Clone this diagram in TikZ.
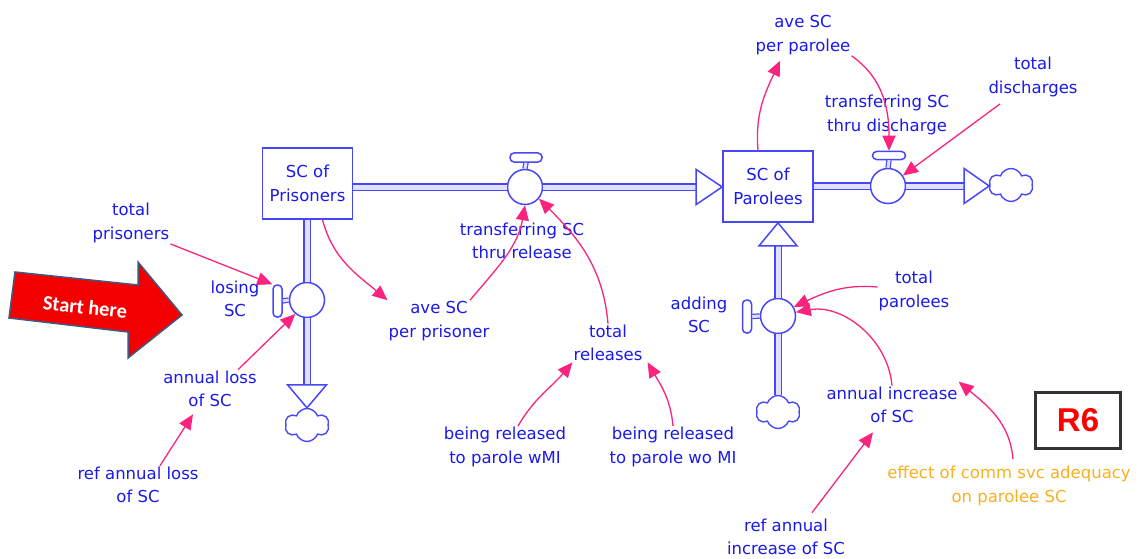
\documentclass[tikz,border=0pt]{standalone}
\usepackage{fontspec}
\setmainfont{DejaVu Sans}
\newfontfamily\calloutfont{Carlito}
\newfontfamily\loopfont{Liberation Sans}
\usetikzlibrary{shapes.symbols, arrows.meta, positioning, calc}

\definecolor{simblue}{RGB}{70,70,250}
\definecolor{labelblue}{RGB}{25,25,235}
\definecolor{pipefill}{RGB}{225,225,255}
\definecolor{linkpink}{RGB}{250,35,125}
\definecolor{effectorange}{RGB}{250,175,30}
\definecolor{startred}{RGB}{245,0,0}
\definecolor{startedge}{RGB}{60,90,130}

\begin{document}
\begin{tikzpicture}[
        x=1pt, y=1pt,
        font=\fontsize{16.5}{23.5}\selectfont,
        stock/.style={
            draw=simblue,
            line width=1.7pt,
            fill=white,
            minimum width=90pt,
            minimum height=71pt,
            align=center,
            text=labelblue
        },
        valve/.style={
            circle,
            draw=simblue,
            line width=1.5pt,
            fill=white,
            minimum size=35pt,
            inner sep=0pt
        },
        handle/.style={
            draw=simblue,
            line width=1.5pt,
            fill=white,
            rounded corners=4pt,
            inner sep=0pt
        },
        pipe/.style={
            draw=simblue,
            line width=1.6pt,
            double=pipefill,
            double distance=5pt
        },
        stem/.style={
            draw=simblue,
            line width=1.2pt,
            double=pipefill,
            double distance=3pt
        },
        flowhead/.style={
            draw=simblue,
            line width=1.5pt,
            fill=white,
            line join=miter
        },
        sink/.style={
            cloud,
            cloud puffs=6,
            cloud puff arc=140,
            aspect=1.3,
            draw=simblue,
            line width=1.4pt,
            fill=white,
            minimum width=44pt,
            minimum height=33pt,
            inner sep=0pt
        },
        var/.style={
            align=center,
            text=labelblue,
            inner sep=1pt
        },
        link/.style={
            line width=1.3pt,
            draw=linkpink,
            -{Triangle[length=15pt, width=13pt]}
        }
    ]

    \useasboundingbox (0,0) rectangle (1142,558);

    % Stocks
    \node (prisoners) [stock] at (307.5,374.5) {SC of\\Prisoners};
    \node (parolees) [stock] at (768,371.5) {SC of\\Parolees};

    % Valves and their handles
    \node (vrelease) [valve] at (525,371) {};
    \node (vdischarge) [valve] at (888,372) {};
    \node (vlose) [valve] at (307,258) {};
    \node (vadd) [valve] at (778,242) {};

    \node (hrelease) [handle, minimum width=32pt, minimum height=9pt] at (526,400.5) {};
    \node (hdischarge) [handle, minimum width=33pt, minimum height=8pt] at (889,402.5) {};
    \node (hlose) [handle, minimum width=9pt, minimum height=32pt] at (277.5,257) {};
    \node (hadd) [handle, minimum width=9pt, minimum height=33pt] at (747,241.5) {};

    \draw [stem] (vrelease.north) -- (hrelease.south);
    \draw [stem] (vdischarge.north) -- (hdischarge.south);
    \draw [stem] (vlose.west) -- (hlose.east);
    \draw [stem] (vadd.west) -- (hadd.east);

    % Sources and sinks
    \node (sinkout) [sink] at (1011,373) {};
    \node (sinklose) [sink] at (307,133) {};
    \node (srcadd) [sink] at (778,146) {};

    % Flows
    \draw [pipe] (prisoners.east |- vrelease) -- (vrelease.west);
    \draw [pipe] (vrelease.east) -- ([xshift=-26]parolees.west |- vrelease);
    \draw [flowhead] (parolees.west |- vrelease) -- ++(-26,17.5) -- ++(0,-35) -- cycle;

    \draw [pipe] (parolees.east |- vdischarge) -- (vdischarge.west);
    \draw [pipe] (vdischarge.east) -- ([xshift=-25]sinkout.west |- vdischarge);
    \draw [flowhead] (sinkout.west |- vdischarge) -- ++(-25,17.5) -- ++(0,-35) -- cycle;

    \draw [pipe] (prisoners.south -| vlose) -- (vlose.north);
    \draw [pipe] (vlose.south) -- ([yshift=23]sinklose.north);
    \draw [flowhead] (sinklose.north) -- ++(-19.5,23) -- ++(39,0) -- cycle;

    \draw [pipe] (srcadd.north) -- (vadd.south);
    \draw [pipe] (vadd.north) -- ([yshift=-23]parolees.south -| vadd);
    \draw [flowhead] (parolees.south -| vadd) -- ++(-19,-23) -- ++(38,0) -- cycle;

    % Variables
    \node (totpris) [var] at (131,335) {total\\prisoners};
    \node (losing) [var] at (235,259) {losing\\SC};
    \node (annloss) [var] at (210,169) {annual loss\\of SC};
    \node (refloss) [var] at (138,73) {ref annual loss\\of SC};
    \node (avepris) [var] at (439,237) {ave SC\\per prisoner};
    \node (transrel) [var] at (522,317) {transferring SC\\thru release};
    \node (totrel) [var] at (608,215) {total\\releases};
    \node (relwmi) [var] at (505,111) {being released\\to parole wMI};
    \node (relwomi) [var] at (673,111) {being released\\to parole wo MI};
    \node (adding) [var] at (699,243) {adding\\SC};
    \node (totparol) [var] at (914,267) {total\\parolees};
    \node (anninc) [var] at (892,153) {annual increase\\of SC};
    \node (refinc) [var] at (786,21) {ref annual\\increase of SC};
    \node (effect) [var, text=effectorange] at (1009,72) {effect of comm svc adequacy\\on parolee SC};
    \node (aveparol) [var] at (803,523) {ave SC\\per parolee};
    \node (transdis) [var] at (887,443) {transferring SC\\thru discharge};
    \node (totdis) [var] at (1033,481) {total\\discharges};

    % Loop tag
    \node (loop) [draw=black!80, line width=2.2pt, minimum width=85pt, minimum height=56pt,
                  text=red, font=\loopfont\bfseries\fontsize{33}{33}\selectfont] at (1078,137.5) {R6};

    % Start marker
    \draw [draw=startedge, fill=startred, line width=1.5pt, line join=miter]
        (15,286) -- (138,273) -- (138,296) -- (182,243) -- (128,200) -- (128,226) -- (9,240) -- cycle;
    \node (start) [rotate=-6, text=white, font=\calloutfont\bfseries\fontsize{20.5}{20.5}\selectfont] at (85,251) {Start here};

    % Links - prisoners side
    \draw [link] (totpris.south east) -- (hlose.north west);
    \draw [link] ([xshift=28]annloss.north) -- (vlose.230);
    \draw [link] ([xshift=22]refloss.north) -- ([xshift=-17,yshift=-6]annloss.south);
    \draw [link] ([xshift=15]prisoners.south) to[out=-75, in=140] (avepris.north west);
    \draw [link] ([xshift=31]avepris.north) to[out=50, in=-100] (vrelease.south);
    \draw [link] (totrel.north) to[out=95, in=-45] (vrelease.-40);
    \draw [link] ([xshift=13]relwmi.north) to[out=60, in=-130] (totrel.south west);
    \draw [link] (relwomi.north) to[out=95, in=-60] ([xshift=4]totrel.south east);

    % Links - parolees side
    \draw [link] ([xshift=-10]parolees.north) to[out=95, in=-115] ([xshift=-23,yshift=-5]aveparol.south);
    \draw [link] (aveparol.south east) to[out=-35, in=90] (hdischarge.north);
    \draw [link] ([xshift=-33,yshift=-6]totdis.south) -- (vdischarge.35);
    \draw [link] ([yshift=4]totparol.west) to[out=175, in=25] (vadd.30);
    \draw [link] (anninc.north) to[out=95, in=10] (vadd.12);
    \draw [link] ([xshift=26,yshift=5]refinc.north) -- ([xshift=-19,yshift=-8]anninc.south);
    \draw [link] ([xshift=4,yshift=6]effect.north) to[out=95, in=-40] ([yshift=4]anninc.north east);

\end{tikzpicture}
\end{document}
